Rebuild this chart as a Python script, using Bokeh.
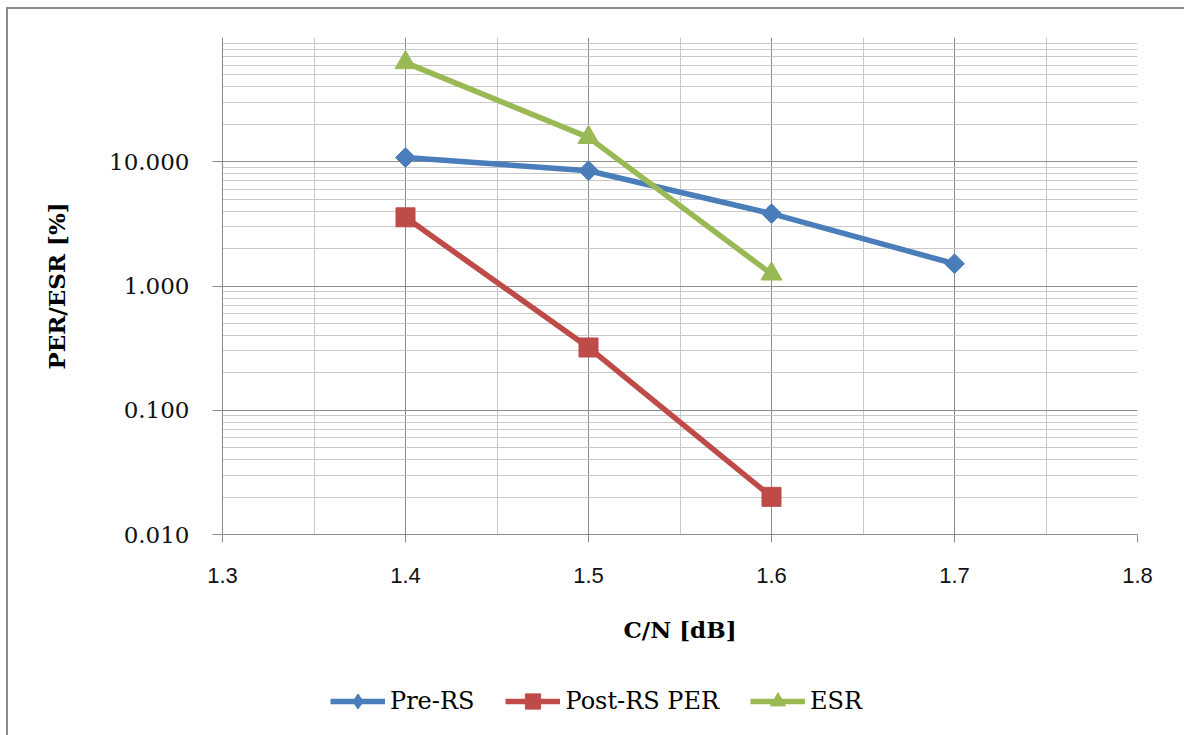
import math
from bokeh.plotting import figure
from bokeh.layouts import column
from bokeh.models import (Range1d, FixedTicker, PrintfTickFormatter, Legend, LegendItem)
from bokeh.embed import file_html
from bokeh.resources import INLINE

# ---- data ----
cn_pre = [1.4, 1.5, 1.6, 1.7]
pre_rs = [10.8, 8.47, 3.82, 1.51]
cn_post = [1.4, 1.5, 1.6]
post_rs_per = [3.57, 0.32, 0.0201]
cn_esr = [1.4, 1.5, 1.6]
esr = [62.8, 15.7, 1.25]

series_names = ["Pre-RS", "Post-RS PER", "ESR"]
x_major = [1.3, 1.4, 1.5, 1.6, 1.7, 1.8]
x_minor = [1.35, 1.45, 1.55, 1.65, 1.75]
y_major = [0.01, 0.1, 1, 10]
y_minor = [m * d for d in [0.01, 0.1, 1, 10] for m in range(2, 10)]
x_title = "C/N [dB]"
y_title = "PER/ESR [%]"

BLUE = "#4A7EBB"
RED = "#BE4B48"
GREEN = "#98B954"
MAJOR = "#8C8C8C"
MINOR = "#C8C8C8"

p = figure(width=1176, height=650, output_backend="svg", toolbar_location=None,
           x_range=Range1d(1.3, 1.8), y_range=Range1d(0.01, 100), y_axis_type="log",
           min_border_left=214, min_border_right=47, min_border_top=28, min_border_bottom=125)
p.outline_line_color = None
p.background_fill_color = "white"
p.border_fill_color = "white"

p.xaxis.ticker = FixedTicker(ticks=x_major, minor_ticks=x_minor)
p.yaxis.ticker = FixedTicker(ticks=y_major, minor_ticks=y_minor)
p.xaxis.formatter = PrintfTickFormatter(format="%.1f")
p.yaxis.formatter = PrintfTickFormatter(format="%.3f")

for ax in (p.xaxis[0], p.yaxis[0]):
    ax.axis_line_color = MAJOR
    ax.major_tick_line_color = MAJOR
    ax.major_tick_in = 0
    ax.minor_tick_in = 0
    ax.minor_tick_out = 0
    ax.major_label_text_color = "#111111"
    ax.axis_label_text_color = "#000000"
    ax.axis_label_text_font = "DejaVu Serif"
    ax.axis_label_text_font_style = "bold"
    ax.axis_label_text_font_size = "23px"

p.xaxis.major_tick_out = 8
p.xaxis.major_label_text_font = "Liberation Sans"
p.xaxis.major_label_text_font_size = "22px"
p.xaxis.major_label_standoff = 25
p.xaxis.axis_label = x_title
p.xaxis.axis_label_standoff = 30

p.yaxis.major_tick_out = 10
p.yaxis.major_label_text_font = "DejaVu Serif"
p.yaxis.major_label_text_font_size = "23px"
p.yaxis.major_label_standoff = 23
p.yaxis.axis_label = y_title
p.yaxis.axis_label_standoff = 36

p.xgrid.grid_line_color = MAJOR
p.xgrid.minor_grid_line_color = MINOR
p.ygrid.grid_line_color = MAJOR
p.ygrid.minor_grid_line_color = MINOR

lw = 5.5


def add_series(fig, xs, ys, color, marker, size, angle=0.0):
    ln = fig.line(xs, ys, line_color=color, line_width=lw)
    sc = fig.scatter(xs, ys, marker=marker, angle=angle, size=size,
                     fill_color=color, line_color=color)
    return ln, sc


add_series(p, cn_pre, pre_rs, BLUE, "square", 14, math.pi / 4)
add_series(p, cn_post, post_rs_per, RED, "square", 19)
add_series(p, cn_esr, esr, GREEN, "triangle", 21)

# legend strip below the chart (same series; its ranges keep the marks out of view)
q = figure(width=1176, height=76, output_backend="svg", toolbar_location=None,
           x_range=Range1d(0, 1), y_range=Range1d(0, 1),
           x_axis_type=None, y_axis_type=None,
           min_border_left=0, min_border_right=0, min_border_top=0, min_border_bottom=0)
q.outline_line_color = None
q.grid.visible = False
q.background_fill_color = "white"
q.border_fill_color = "white"

r1 = add_series(q, cn_pre, pre_rs, BLUE, "diamond", 14)
r2 = add_series(q, cn_post, post_rs_per, RED, "square", 19)
r3 = add_series(q, cn_esr, esr, GREEN, "triangle", 21)

legend = Legend(items=[LegendItem(label=series_names[0], renderers=list(r1)),
                       LegendItem(label=series_names[1], renderers=list(r2)),
                       LegendItem(label=series_names[2], renderers=list(r3))],
                orientation="horizontal", location=(108, 15))
legend.label_text_font = "DejaVu Serif"
legend.label_text_font_size = "24px"
legend.label_text_color = "#000000"
legend.glyph_width = 55
legend.glyph_height = 38
legend.label_height = 36
legend.label_standoff = 5
legend.spacing = 31
legend.padding = 0
legend.margin = 0
legend.border_line_color = None
legend.background_fill_alpha = 0
q.add_layout(legend, "center")

layout = column(p, q, spacing=0)
layout.styles = {"border-top": "2px solid #8A8A8A", "border-left": "2px solid #8A8A8A",
                 "margin-left": "6px", "margin-top": "7px", "background-color": "white"}

open("out.html", "w").write(file_html(layout, INLINE))
